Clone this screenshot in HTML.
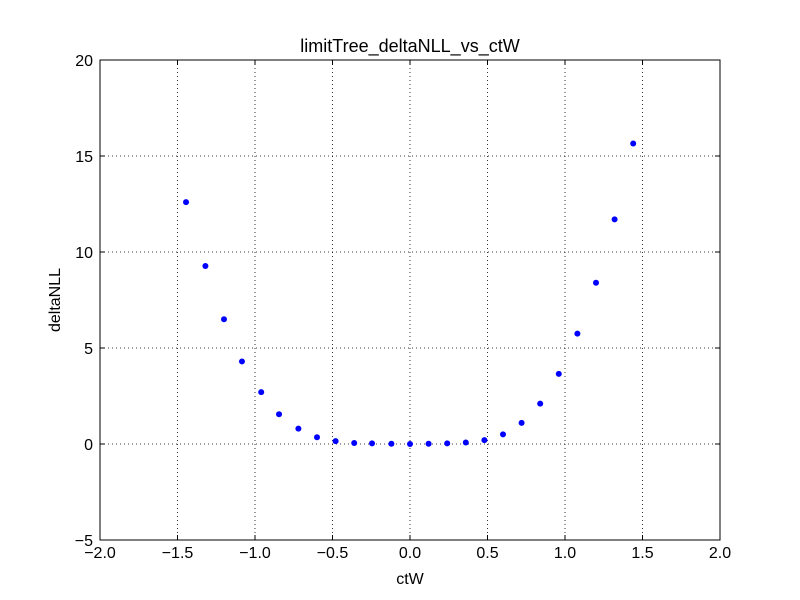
<!DOCTYPE html>
<html><head><meta charset="utf-8"><style>
body{margin:0;background:#fff;}
svg{display:block;font-family:"Liberation Sans",sans-serif;}
</style></head><body>
<svg id="chart" width="800" height="600">
<rect width="800" height="600" fill="#fff"/>
<text x="410" y="52" text-anchor="middle" font-size="18">limitTree_deltaNLL_vs_ctW</text>
<text x="410" y="584" text-anchor="middle" font-size="16">ctW</text>
<text x="0" y="0" transform="translate(60,300) rotate(-90)" text-anchor="middle" font-size="16">deltaNLL</text>
<g id="grid"></g><g id="ticks"></g><g id="points"></g>
<rect x="100" y="60" width="620" height="480" fill="none" stroke="#000" stroke-width="1"/>
</svg>
<script>
const xTicks=[-2.0,-1.5,-1.0,-0.5,0.0,0.5,1.0,1.5,2.0];
const xTickLabels=["\u22122.0","\u22121.5","\u22121.0","\u22120.5","0.0","0.5","1.0","1.5","2.0"];
const yTicks=[-5,0,5,10,15,20];
const yTickLabels=["\u22125","0","5","10","15","20"];
const ctW=[-1.445,-1.32,-1.2,-1.084,-0.96,-0.845,-0.72,-0.6,-0.48,-0.36,-0.245,-0.12,0,0.12,0.24,0.36,0.48,0.6,0.72,0.84,0.96,1.08,1.2,1.32,1.44];
const deltaNLL=[12.6,9.27,6.5,4.3,2.7,1.55,0.8,0.35,0.15,0.05,0.03,0.01,0,0.01,0.03,0.08,0.2,0.5,1.1,2.1,3.65,5.75,8.4,11.7,15.65];
const NS="http://www.w3.org/2000/svg";
const xs=v=>100+(v+2)/4*620;
const ys=v=>540-(v+5)/25*480;
function mk(t,a,p){const e=document.createElementNS(NS,t);for(const k in a)e.setAttribute(k,a[k]);p.appendChild(e);return e;}
const grid=document.getElementById('grid'),ticks=document.getElementById('ticks'),pts=document.getElementById('points');
xTicks.forEach((v,i)=>{const x=xs(v);
 const g=mk('line',{x1:x,x2:x,y1:60,y2:540,stroke:'#000','stroke-dasharray':'1,3','stroke-width':0.8},grid);
 
 
 mk('line',{x1:x,x2:x,y1:540,y2:535,stroke:'#000'},ticks);
 mk('line',{x1:x,x2:x,y1:60,y2:65,stroke:'#000'},ticks);
 const t=mk('text',{x:x,y:558,'text-anchor':'middle','font-size':16},ticks);t.textContent=xTickLabels[i];
 
 });
yTicks.forEach((v,i)=>{const y=ys(v);
 const g=mk('line',{x1:100,x2:720,y1:y,y2:y,stroke:'#000','stroke-dasharray':'1,3','stroke-width':0.8},grid);
 
 
 mk('line',{x1:100,x2:105,y1:y,y2:y,stroke:'#000'},ticks);
 mk('line',{x1:715,x2:720,y1:y,y2:y,stroke:'#000'},ticks);
 const t=mk('text',{x:93,y:y+6,'text-anchor':'end','font-size':16},ticks);t.textContent=yTickLabels[i];
 
 });
ctW.forEach((v,i)=>{const c=mk('circle',{cx:xs(v),cy:ys(deltaNLL[i]),r:3,fill:'#0000ff'},pts);
 
 });
</script>
</body></html>
